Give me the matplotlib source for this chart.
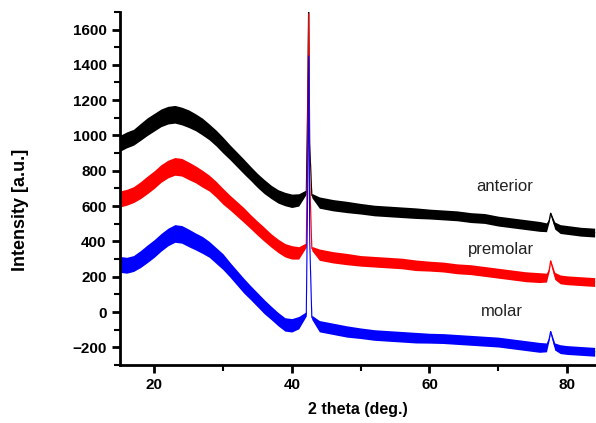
import numpy as np
import matplotlib
matplotlib.use('Agg')
import matplotlib.pyplot as plt
from matplotlib.ticker import MultipleLocator

plt.rcParams['font.family'] = ['Liberation Sans', 'DejaVu Sans']

# values (2 theta in degrees, intensity in a.u.)
two_theta = [15, 16, 17, 18, 19, 20, 21, 22, 23, 24, 25, 26, 27, 28, 29, 30,
             31, 32, 33, 34, 35, 36, 37, 38, 39, 40, 41, 42.1, 42.3, 42.45,
             42.6, 42.9, 44, 46, 48, 50, 52, 54, 56, 58, 60, 62, 64, 66, 68,
             70, 72, 74, 76, 77, 77.4, 77.6, 78.2, 79, 80, 82, 84]

anterior = [955, 975, 990, 1020, 1050, 1075, 1100, 1115, 1120, 1110, 1095,
            1075, 1050, 1020, 985, 945, 905, 865, 825, 785, 745, 710, 680,
            655, 640, 630, 635, 680, 1200, 1800, 950, 660, 620, 605, 595, 585,
            575, 570, 565, 560, 555, 550, 545, 535, 530, 515, 505, 495, 485,
            480, 520, 560, 490, 470, 465, 455, 450]

premolar = [640, 650, 665, 690, 720, 750, 785, 810, 825, 820, 800, 780, 755,
            730, 695, 655, 620, 585, 550, 512, 475, 440, 405, 375, 350, 338,
            335, 380, 1000, 1690, 750, 360, 325, 310, 300, 290, 285, 280, 275,
            265, 260, 255, 245, 240, 230, 220, 210, 200, 195, 195, 240, 290,
            205, 185, 180, 175, 170]

molar = [270, 265, 275, 300, 330, 360, 395, 425, 445, 440, 420, 400, 380, 355,
         320, 285, 240, 195, 150, 110, 70, 30, -5, -40, -70, -75, -60, -10,
         700, 1450, 400, -30, -80, -95, -110, -120, -130, -135, -140, -145,
         -148, -150, -155, -160, -165, -170, -180, -190, -200, -200, -150,
         -110, -195, -210, -215, -220, -225]

# half width of the noise band around each trace
noise = [45, 45, 45, 48, 50, 50, 50, 50, 50, 50, 50, 48, 48, 45, 45, 45, 42,
         42, 42, 40, 40, 40, 38, 38, 38, 38, 35, 12, 3, 2, 3, 12, 32, 32, 32,
         30, 30, 30, 30, 30, 28, 28, 28, 28, 28, 28, 28, 28, 28, 25, 8, 6, 20,
         25, 25, 25, 25]

labels = ['anterior', 'premolar', 'molar']
colors = ['black', 'red', 'blue']
label_pos = [(71.0, 711), (70.4, 355), (70.5, 5)]

fig = plt.figure(figsize=(5.96, 4.23), dpi=100)
ax = fig.add_axes([0.201, 0.137, 0.799, 0.835])

x = np.array(two_theta)
n = np.array(noise)
for vals, c in zip([anterior, premolar, molar], colors):
    y = np.array(vals)
    ax.fill_between(x, y - n, y + n, color=c, lw=0)
    ax.plot(x, y, color=c, lw=0.8)

for name, (tx, ty) in zip(labels, label_pos):
    ax.text(tx, ty, name, fontsize=12, color='#222222', ha='center', va='center')

ax.set_xlim(15, 84.2)
ax.set_ylim(-300, 1700)
ax.xaxis.set_major_locator(MultipleLocator(20))
ax.xaxis.set_minor_locator(MultipleLocator(10))
ax.yaxis.set_major_locator(MultipleLocator(200))
ax.yaxis.set_minor_locator(MultipleLocator(100))

ax.spines['top'].set_visible(False)
ax.spines['right'].set_visible(False)
for s in ['left', 'bottom']:
    ax.spines[s].set_linewidth(2)
ax.tick_params(which='major', direction='out', length=6, width=2,
               labelsize=11)
ax.tick_params(which='minor', direction='out', length=4, width=1.5)
for t in ax.get_xticklabels() + ax.get_yticklabels():
    t.set_fontweight('bold')

ax.set_xlabel('2 theta (deg.)', fontsize=11.5, fontweight='bold')
ax.set_ylabel('Intensity [a.u.]', fontsize=13, fontweight='bold')
ax.xaxis.set_label_coords(0.5, -0.105)
ax.yaxis.set_label_coords(-0.19, 0.44)

fig.savefig('out.png', dpi=100)
